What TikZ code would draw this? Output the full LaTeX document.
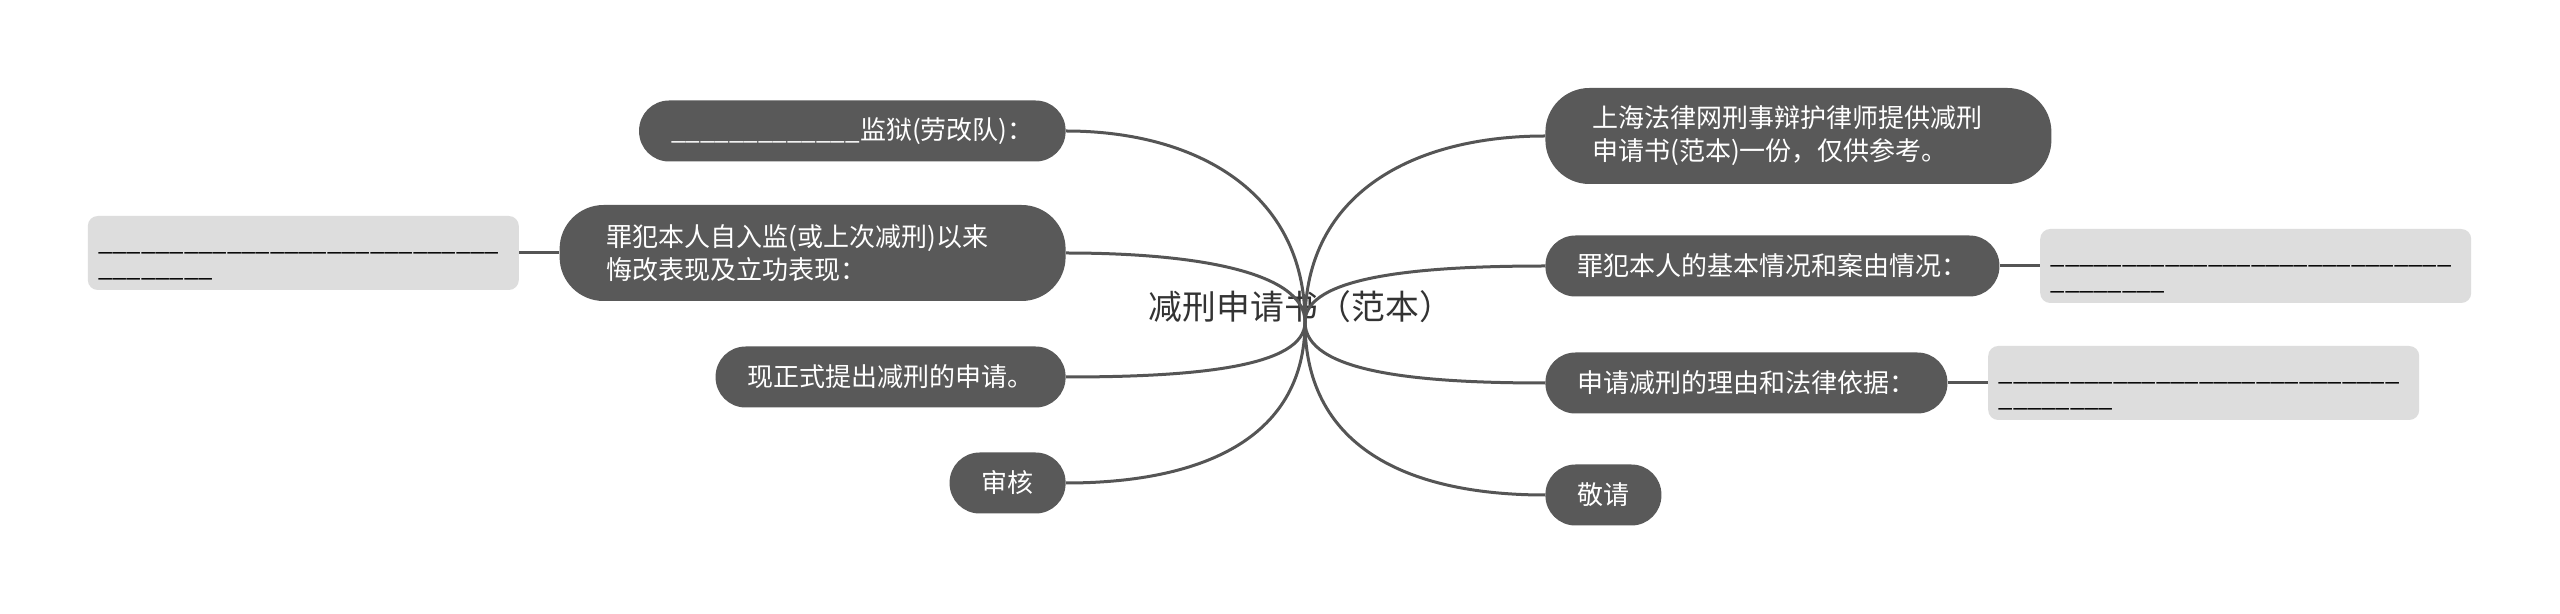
\documentclass[tikz,border=0pt]{standalone}
\usepackage{fontspec}
\setmainfont{Noto Sans CJK SC}
\usetikzlibrary{positioning}
\definecolor{topicfill}{HTML}{595959}
\definecolor{linkgray}{HTML}{555555}
\definecolor{notefill}{HTML}{DDDDDD}
\definecolor{titlegray}{HTML}{333333}

\begin{document}
\begin{tikzpicture}[x=0.5pt,y=-0.5pt,
  topic/.style={fill=topicfill,text=white,rounded corners=15pt,minimum height=30.5pt,
    inner xsep=16pt,inner ysep=2pt,font=\fontsize{13}{16.5}\selectfont},
  longtopic/.style={topic,rounded corners=22pt,minimum height=48pt,inner xsep=23.5pt,
    text width=206pt,align=left},
  note/.style={fill=notefill,rounded corners=5pt,minimum width=215.5pt,minimum height=37pt,
    text width=205pt,inner xsep=5pt,inner ysep=0pt,align=left,font=\fontsize{12.8}{13.2}\selectfont},
  link/.style={draw=linkgray,line width=1.5pt}]
\useasboundingbox (0,0) rectangle (2560,614);
\fill[white] (0,0) rectangle (2560,614);

% centre
\node[font=\fontsize{16.9}{20}\selectfont,text=titlegray] (title) at (1301,307) {减刑申请书（范本）};
\coordinate (hub) at (1305,322);

% left branch
\node[topic,anchor=east] (l1) at (1066,131) {\_\_\_\_\_\_\_\_\_\_\_\_\_监狱(劳改队)：};
\node[longtopic,anchor=east] (l2) at (1066,253) {罪犯本人自入监(或上次减刑)以来\\悔改表现及立功表现：};
\node[topic,anchor=east] (l3) at (1066,377) {现正式提出减刑的申请。};
\node[topic,anchor=east] (l4) at (1066,483) {审核};
\node[note,left=20pt of l2] (n2) {\rule{0pt}{12pt}\_\_\_\_\_\_\_\_\_\_\_\_\_\_\_\_\_\_\_\_\_\_\_\_\_\_\_\_\\\_\_\_\_\_\_\_\_};

% right branch
\node[longtopic,anchor=west] (r1) at (1545,136) {上海法律网刑事辩护律师提供减刑\\申请书(范本)一份，仅供参考。};
\node[topic,anchor=west] (r2) at (1545,266) {罪犯本人的基本情况和案由情况：};
\node[topic,anchor=west] (r3) at (1545,383) {申请减刑的理由和法律依据：};
\node[topic,anchor=west] (r4) at (1545,495) {敬请};
\node[note,right=20pt of r2] (m2) {\rule{0pt}{12pt}\_\_\_\_\_\_\_\_\_\_\_\_\_\_\_\_\_\_\_\_\_\_\_\_\_\_\_\_\\\_\_\_\_\_\_\_\_};
\node[note,right=20pt of r3] (m3) {\rule{0pt}{12pt}\_\_\_\_\_\_\_\_\_\_\_\_\_\_\_\_\_\_\_\_\_\_\_\_\_\_\_\_\\\_\_\_\_\_\_\_\_};

% links
\draw[link] (l1.east) .. controls +(130,0) and +(0,-130) .. (hub);
\draw[link] (l2.east) .. controls +(130,0) and +(0,-50) .. (hub);
\draw[link] (l3.east) .. controls +(130,0) and +(0,45) .. (hub);
\draw[link] (l4.east) .. controls +(130,0) and +(0,120) .. (hub);
\draw[link] (hub) .. controls +(0,-130) and +(-130,0) .. (r1.west);
\draw[link] (hub) .. controls +(0,-45) and +(-130,0) .. (r2.west);
\draw[link] (hub) .. controls +(0,50) and +(-130,0) .. (r3.west);
\draw[link] (hub) .. controls +(0,130) and +(-130,0) .. (r4.west);
\draw[link] (n2) -- (l2);
\draw[link] (r2) -- (m2);
\draw[link] (r3) -- (m3);
\end{tikzpicture}
\end{document}
